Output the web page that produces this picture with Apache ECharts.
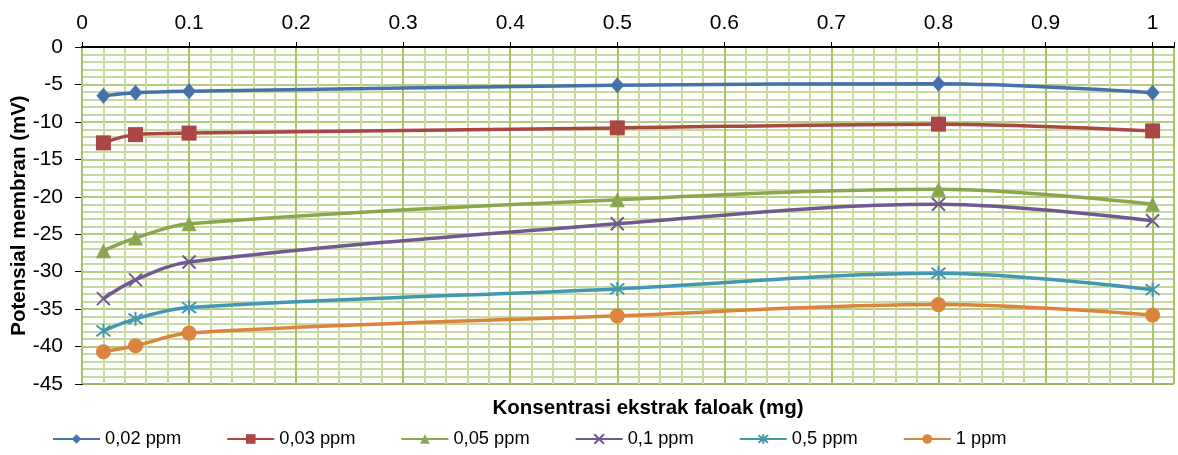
<!DOCTYPE html>
<html>
<head>
<meta charset="utf-8">
<script src="https://cdn.jsdelivr.net/npm/echarts@6/dist/echarts.min.js"></script>
<style>html,body{margin:0;padding:0;background:#fff}#c{width:1178px;height:455px}</style>
</head>
<body>
<div id="c"></div>
<script>
var xValues = [0.02, 0.05, 0.1, 0.5, 0.8, 1];
var seriesNames = ['0,02 ppm', '0,03 ppm', '0,05 ppm', '0,1 ppm', '0,5 ppm', '1 ppm'];
var s002 = [-6.5, -6.1, -5.9, -5.1, -4.9, -6.1];
var s003 = [-12.8, -11.7, -11.5, -10.8, -10.3, -11.2];
var s005 = [-27.2, -25.5, -23.6, -20.4, -19.0, -21.0];
var s01 = [-33.6, -31.1, -28.7, -23.6, -21.0, -23.2];
var s05 = [-37.9, -36.3, -34.8, -32.3, -30.2, -32.4];
var s1 = [-40.7, -39.9, -38.2, -35.9, -34.4, -35.8];
var xTicks = [0, 0.1, 0.2, 0.3, 0.4, 0.5, 0.6, 0.7, 0.8, 0.9, 1];
var yTicks = [0, -5, -10, -15, -20, -25, -30, -35, -40, -45];

var colors = ['#4672AA', '#AA4644', '#8AA64F', '#71598F', '#4198AF', '#DB843D'];
var allData = [s002, s003, s005, s01, s05, s1];
var symbols = [
  'diamond', 'rect', 'triangle',
  'path://M0,0L10,10M10,0L0,10',
  'path://M0,0L10,10M10,0L0,10M5,-1.5L5,11.5',
  'circle'
];
var symSizes = [[14, 16], 15, 15, 13, 14, 15];
var FONT = 'Liberation Sans, Arial, sans-serif';

var series = allData.map(function (arr, i) {
  var isStroke = (i === 3 || i === 4);
  return {
    name: seriesNames[i],
    type: 'line',
    xAxisIndex: 0,
    data: arr.map(function (v, j) { return [xValues[j], v]; }),
    smooth: 0.35,
    symbol: symbols[i],
    symbolSize: symSizes[i],
    showAllSymbol: true,
    lineStyle: { color: colors[i], width: 3.5 },
    itemStyle: isStroke ? { color: 'rgba(0,0,0,0)', borderColor: colors[i], borderWidth: 2 } : { color: colors[i], borderWidth: 0 },
    emphasis: { disabled: true },
    z: 10 + i
  };
});

var chart = echarts.init(document.getElementById('c'), null, { renderer: 'canvas' });
chart.setOption({
  animation: false,
  color: colors,
  textStyle: { fontFamily: FONT },
  grid: { left: 82, right: 4, top: 47, bottom: 71, show: true, borderColor: '#404040', borderWidth: 1, containLabel: false, outerBoundsMode: 'none' },
  xAxis: [{
    type: 'value', position: 'top', min: 0, max: 1.02, interval: 0.1, z: 3,
    axisLine: { show: true, onZero: false, lineStyle: { color: '#000', width: 2 } },
    axisTick: { show: true, inside: false, length: 5, lineStyle: { color: '#000' } },
    axisLabel: {
      color: '#000', fontSize: 21, fontFamily: FONT, margin: 13,
      formatter: function (v) {
        var r = Math.round(v * 10) / 10;
        if (xTicks.indexOf(r) < 0 || Math.abs(r - v) > 1e-6) return '';
        return String(r);
      }
    },
    splitLine: { show: true, lineStyle: { color: '#9BBB59', width: 1.5 } }
  }, {
    type: 'value', position: 'bottom', min: 0, max: 1.02, interval: 0.02, z: 1,
    axisLine: { show: false }, axisTick: { show: false }, axisLabel: { show: false },
    splitLine: { show: true, lineStyle: { color: '#C8DAA0', width: 2 } }
  }],
  yAxis: {
    type: 'value', min: -45, max: 0, interval: 5,
    name: 'Potensial membran (mV)', nameLocation: 'middle', nameGap: 52, nameMoveOverlap: false,
    nameTextStyle: { color: '#000', fontSize: 20.5, fontWeight: 'bold', fontFamily: FONT },
    axisLine: { show: true, onZero: false, lineStyle: { color: '#000', width: 2 } },
    axisTick: { show: true, inside: false, length: 7, lineStyle: { color: '#000' } },
    axisLabel: {
      color: '#000', fontSize: 21, fontFamily: FONT, margin: 19,
      formatter: function (v) { return yTicks.indexOf(v) >= 0 ? String(v) : ''; }
    },
    splitLine: { show: true, lineStyle: { color: '#9BBB59', width: 1.5 } },
    minorTick: { show: false, splitNumber: 5 },
    minorSplitLine: { show: true, lineStyle: { color: '#C8DAA0', width: 2 } }
  },
  legend: {
    data: seriesNames, left: 47, top: 425, itemGap: 45, itemWidth: 47, itemHeight: 12,
    textStyle: { color: '#000', fontSize: 18.3, fontFamily: FONT },
    selectedMode: false
  },
  graphic: [{
    type: 'text', x: 648, y: 408,
    style: { text: 'Konsentrasi ekstrak faloak (mg)', fill: '#000', font: 'bold 20.5px ' + FONT, align: 'center', verticalAlign: 'middle' }
  }],
  series: series
});
</script>
</body>
</html>
